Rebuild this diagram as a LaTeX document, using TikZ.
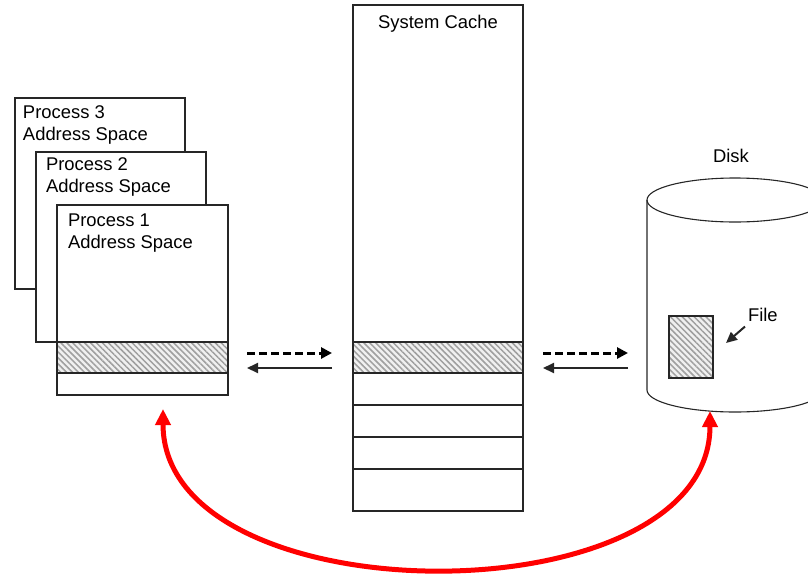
\documentclass[tikz,border=0pt]{standalone}
\usepackage{fontspec}
\setmainfont{Liberation Sans}
\usetikzlibrary{arrows.meta,patterns.meta,positioning}

\begin{document}
\begin{tikzpicture}[x=1pt,y=-1pt,outer sep=0pt,inner sep=0pt,font=\fontsize{18.4}{22}\selectfont]
\tikzstyle{box}=[draw=black!85, line width=1.3pt, fill=white, minimum width=171pt]
\tikzstyle{hatch}=[box, minimum height=31pt, preaction={fill=gray!12},
    pattern={Lines[angle=-45,distance=4.2pt,line width=1.5pt]}, pattern color=gray!75]
\tikzstyle{txt}=[anchor=north west, align=left]
\tikzstyle{fwd}=[draw=black, line width=3pt, dash pattern=on 8pt off 4pt,
    -{Triangle[length=11pt,width=11pt]}]
\tikzstyle{back}=[draw=black!85, line width=2pt, -{Triangle[length=11pt,width=10pt]}]
\tikzstyle{disk}=[draw=black!85, line width=1.1pt]
\tikzstyle{redarr}=[draw=red, line width=5pt,
    {Triangle[length=16pt,width=15pt]}-{Triangle[length=16pt,width=15pt]}]
\useasboundingbox (0,0) rectangle (808,573);
    \node (p3) [box, minimum width=170pt, minimum height=191pt, anchor=north west] at (15,98) {};
    \node [txt] at ([xshift=8pt,yshift=-8pt]p3.north west) {Process 3\\Address Space};
    \node (p2) [box, minimum width=170pt, minimum height=190pt, anchor=north west] at (36,152) {};
    \node [txt] at ([xshift=10pt,yshift=-6pt]p2.north west) {Process 2\\Address Space};
    \node (p1) [box, minimum height=137pt, anchor=north west] at (57,205) {};
    \node [txt] at ([xshift=11pt,yshift=-9pt]p1.north west) {Process 1\\Address Space};
    \node (p1buf) [hatch, anchor=north] at (p1.south) {};
    \node (p1row) [box, minimum height=22pt, anchor=north] at (p1buf.south) {};
    \node (cache) [box, minimum width=170pt, minimum height=337pt, anchor=north west] at (353,5) {};
    \node [anchor=north] at ([yshift=-10pt]cache.north) {System Cache};
    \node (cbuf) [hatch, minimum width=170pt, anchor=north] at (cache.south) {};
    \node (c1) [box, minimum width=170pt, minimum height=32pt, anchor=north] at (cbuf.south) {};
    \node (c2) [box, minimum width=170pt, minimum height=32pt, anchor=north] at (c1.south) {};
    \node (c3) [box, minimum width=170pt, minimum height=32pt, anchor=north] at (c2.south) {};
    \node (c4) [box, minimum width=170pt, minimum height=42pt, anchor=north] at (c3.south) {};
    \draw[disk] (647,200) -- (647,390) arc[start angle=180, end angle=360, x radius=88pt, y radius=22pt] -- (823,200);
    \draw[disk] (735,200) ellipse [x radius=88pt, y radius=22pt];
    \node (disklbl) [anchor=north] at (731,149) {Disk};
    \coordinate (diskside) at (647,357.5);
    \coordinate (diskbot) at (710,411);
    \node (file) [hatch, minimum width=44pt, minimum height=62pt, anchor=north west] at (669,316) {};
    \node (filelbl) [anchor=north west] at (748,308) {File};
    \draw[back] ([xshift=-3pt,yshift=-5pt]filelbl.south west) -- ([xshift=13pt,yshift=4pt]file.east);
    \draw[fwd] ([xshift=19pt,yshift=4.5pt]p1buf.east) -- ([xshift=-21pt,yshift=4.5pt]cbuf.west);
    \draw[back] ([xshift=-21pt,yshift=-10.5pt]cbuf.west) -- ([xshift=19pt,yshift=-10.5pt]p1buf.east);
    \draw[fwd] ([xshift=20pt,yshift=4.5pt]cbuf.east) -- ([xshift=-19pt,yshift=4.5pt]diskside);
    \draw[back] ([xshift=-19pt,yshift=-10.5pt]diskside) -- ([xshift=20pt,yshift=-10.5pt]cbuf.east);
    \draw[redarr] ([xshift=20.5pt,yshift=-14pt]p1row.south) to[out=-90,in=-90,looseness=0.98] (diskbot);
\end{tikzpicture}
\end{document}
